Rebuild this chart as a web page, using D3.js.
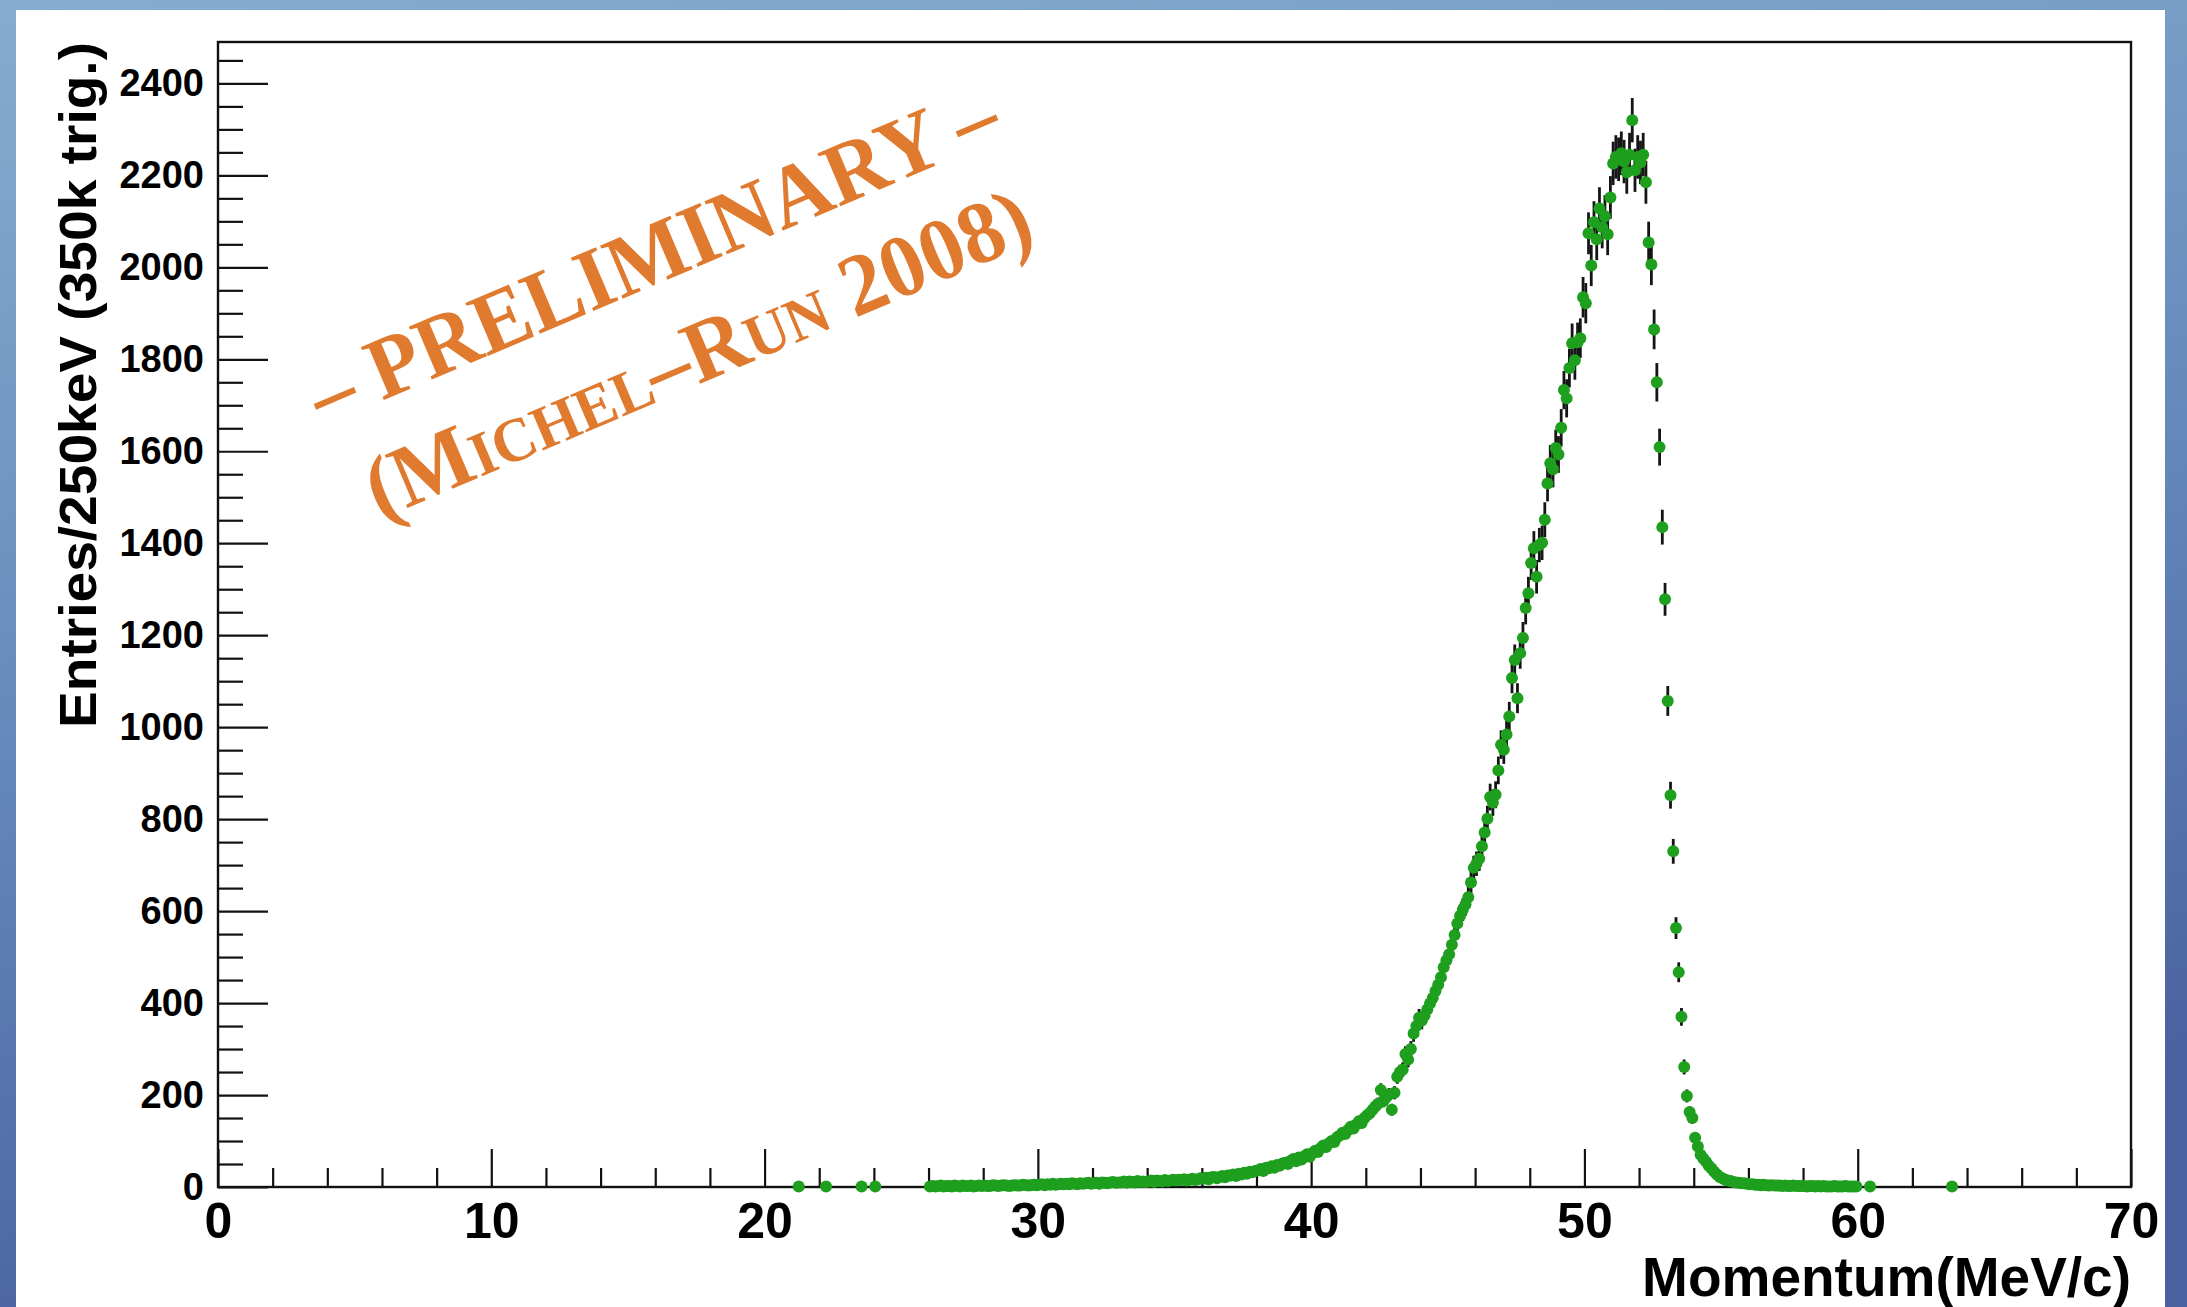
<!DOCTYPE html>
<html>
<head>
<meta charset="utf-8">
<script src="https://cdn.jsdelivr.net/npm/d3@7"></script>
<style>
  html, body { margin: 0; padding: 0; overflow: hidden; background: #5a7cae; }
  svg { display: block; }
</style>
</head>
<body>
<svg id="chart" width="2187" height="1307"></svg>
<script>
// ---------------- DATA ----------------
// Histogram: 0.1 MeV wide bins starting at 26.0 MeV (bin centres 26.05 ... 59.95)
const binStart = 26.0;
const binWidth = 0.1;
const counts = [
  // 26
  1,2,1,2,3,1,2,2,1,3,
  // 27
  2,1,3,2,2,3,1,2,3,2,
  // 28
  3,2,2,4,3,2,3,4,3,2,
  // 29
  3,4,3,3,5,4,3,4,5,4,
  // 30
  5,6,4,6,5,7,5,6,7,6,
  // 31
  7,6,8,7,6,8,7,8,9,7,
  // 32
  8,9,7,10,9,8,10,11,9,10,
  // 33
  10,12,9,12,11,10,13,11,12,11,
  // 34
  12,14,11,14,13,12,15,13,14,16,
  // 35
  14,16,15,17,14,16,18,15,17,19,
  // 36
  18,20,17,21,22,19,22,24,21,25,
  // 37
  25,27,24,29,27,31,29,33,32,35,
  // 38
  36,39,35,42,41,45,42,48,46,51,
  // 39
  53,50,57,61,56,64,60,67,71,66,
  // 40
  74,79,76,85,90,87,95,100,98,108,
  // 41
  112,118,115,124,131,127,136,143,139,150,
  // 42
  156,161,168,175,181,211,187,195,201,168,
  // 43
  205,240,250,255,289,277,300,334,350,368,
  // 44
  362,373,386,399,411,426,440,456,478,493,
  // 45
  506,527,548,573,590,603,615,630,662,694,
  // 46
  703,714,741,771,801,848,836,853,906,962,
  // 47
  951,984,1023,1107,1146,1063,1161,1194,1259,1291,
  // 48
  1357,1389,1327,1396,1401,1451,1530,1574,1561,1607,
  // 49
  1593,1651,1733,1715,1781,1835,1798,1837,1846,1935,
  // 50
  1922,2074,2004,2098,2061,2128,2087,2111,2072,2152,
  // 51
  2226,2240,2235,2248,2230,2207,2245,2320,2211,2240,
  // 52
  2228,2245,2185,2054,2006,1865,1750,1609,1435,1278,
  // 53
  1057,852,730,563,467,370,261,198,163,150,
  // 54
  107,88,70,62,55,46,40,33,27,22,
  // 55
  19,16,14,13,11,10,9,8,8,7,
  // 56
  6,6,5,5,4,5,4,3,4,3,
  // 57
  3,3,2,3,2,2,3,2,2,2,
  // 58
  2,1,2,2,1,2,1,2,1,1,
  // 59
  1,2,1,1,1,2,1,1,1,1
];
// isolated entries outside the continuous band
const tailMomentum = [21.25, 22.25, 23.55, 24.05, 60.45, 63.45];
const tailCounts   = [1, 1, 1, 1, 1, 1];

const xDomain = [0, 70];
const yDomain = [0, 2490];
const xMajorTicks = [0, 10, 20, 30, 40, 50, 60, 70];
const yMajorTicks = [0, 200, 400, 600, 800, 1000, 1200, 1400, 1600, 1800, 2000, 2200, 2400];
const xMinorStep = 2;
const yMinorStep = 50;
const xTitle = "Momentum(MeV/c)";
const yTitle = "Entries/250keV (350k trig.)";
const stampLine1 = "\u2013 PRELIMINARY \u2013";
const stampLine2 = "(Michel\u2013Run 2008)";

// ---------------- LAYOUT ----------------
const W = 2187, H = 1307;
const frame = { left: 218, top: 42, right: 2131, bottom: 1187 };
const sansFont = "'Liberation Sans', Arial, Helvetica, sans-serif";
const serifFont = "'Liberation Serif', 'DejaVu Serif', serif";

const svg = d3.select("#chart");
const defs = svg.append("defs");

// slide background
const bg = defs.append("linearGradient").attr("id", "bgGrad")
  .attr("x1", 0).attr("y1", 0).attr("x2", 0.25).attr("y2", 1);
bg.append("stop").attr("offset", "0%").attr("stop-color", "#86adcf");
bg.append("stop").attr("offset", "45%").attr("stop-color", "#6a90bf");
bg.append("stop").attr("offset", "100%").attr("stop-color", "#4a62a0");
svg.append("rect").attr("width", W).attr("height", H).attr("fill", "url(#bgGrad)");

// white canvas
svg.append("rect").attr("x", 16).attr("y", 10).attr("width", 2149).attr("height", H)
  .attr("fill", "#ffffff");

// scales
const x = d3.scaleLinear().domain(xDomain).range([frame.left, frame.right]);
const y = d3.scaleLinear().domain(yDomain).range([frame.bottom, frame.top]);

const xMinor = d3.range(xDomain[0], xDomain[1] + 0.001, xMinorStep).filter(v => v % 10 !== 0);
const yMinor = d3.range(0, yDomain[1], yMinorStep).filter(v => v % 200 !== 0);

function styleAxis(g, size) {
  g.select(".domain").remove();
  g.selectAll(".tick line").attr("stroke", "#111").attr("stroke-width", 2.2);
  g.selectAll(".tick text")
    .attr("fill", "#000")
    .style("font-family", sansFont)
    .style("font-weight", "bold")
    .style("font-size", size + "px");
}

// x axis minor + major
svg.append("g").attr("transform", `translate(0,${frame.bottom})`)
  .call(d3.axisBottom(x).tickValues(xMinor).tickSize(-19).tickFormat(""))
  .call(g => styleAxis(g, 10));
svg.append("g").attr("transform", `translate(0,${frame.bottom})`)
  .call(d3.axisBottom(x).tickValues(xMajorTicks).tickSize(-38).tickPadding(15).tickFormat(d3.format("d")))
  .call(g => styleAxis(g, 50));

// y axis minor + major
svg.append("g").attr("transform", `translate(${frame.left},0)`)
  .call(d3.axisLeft(y).tickValues(yMinor).tickSize(-25).tickFormat(""))
  .call(g => styleAxis(g, 10));
svg.append("g").attr("transform", `translate(${frame.left},0)`)
  .call(d3.axisLeft(y).tickValues(yMajorTicks).tickSize(-50).tickPadding(14).tickFormat(d3.format("d")))
  .call(g => styleAxis(g, 38));

// frame
svg.append("rect")
  .attr("x", frame.left).attr("y", frame.top)
  .attr("width", frame.right - frame.left).attr("height", frame.bottom - frame.top)
  .attr("fill", "none").attr("stroke", "#111").attr("stroke-width", 2.4);

// axis titles
svg.append("text")
  .attr("x", frame.right).attr("y", 1296)
  .attr("text-anchor", "end")
  .style("font-family", sansFont).style("font-weight", "bold").style("font-size", "55px")
  .attr("fill", "#000")
  .text(xTitle);

svg.append("text")
  .attr("transform", `translate(96,${frame.top}) rotate(-90)`)
  .attr("text-anchor", "end")
  .attr("textLength", 686).attr("lengthAdjust", "spacingAndGlyphs")
  .style("font-family", sansFont).style("font-weight", "bold").style("font-size", "52px")
  .attr("fill", "#000")
  .text(yTitle);

// data records
const points = counts.map((c, i) => ({ m: binStart + binWidth * (i + 0.5), c }))
  .concat(tailMomentum.map((m, i) => ({ m, c: tailCounts[i] })))
  .filter(d => d.c > 0);

// error bars
svg.append("g").selectAll("line").data(points).join("line")
  .attr("x1", d => x(d.m)).attr("x2", d => x(d.m))
  .attr("y1", d => y(d.c + Math.sqrt(d.c))).attr("y2", d => y(Math.max(0, d.c - Math.sqrt(d.c))))
  .attr("stroke", "#151515").attr("stroke-width", 2.8);

// markers
svg.append("g").selectAll("circle").data(points).join("circle")
  .attr("cx", d => x(d.m)).attr("cy", d => y(d.c))
  .attr("r", 6)
  .attr("fill", "#1e9f1e");

// preliminary stamp
const stampColor = "#df7a2f";
svg.append("text")
  .attr("transform", "translate(664,281) rotate(-23)")
  .attr("text-anchor", "middle")
  .attr("textLength", 740).attr("lengthAdjust", "spacingAndGlyphs")
  .style("font-family", serifFont).style("font-weight", "bold").style("font-size", "88px")
  .attr("fill", stampColor)
  .text(stampLine1);
svg.append("text")
  .attr("transform", "translate(709,380) rotate(-23)")
  .attr("text-anchor", "middle")
  .attr("textLength", 715).attr("lengthAdjust", "spacingAndGlyphs")
  .style("font-family", serifFont).style("font-weight", "bold").style("font-size", "88px")
  .style("font-variant", "small-caps")
  .attr("fill", stampColor)
  .text(stampLine2);
</script>
</body>
</html>
